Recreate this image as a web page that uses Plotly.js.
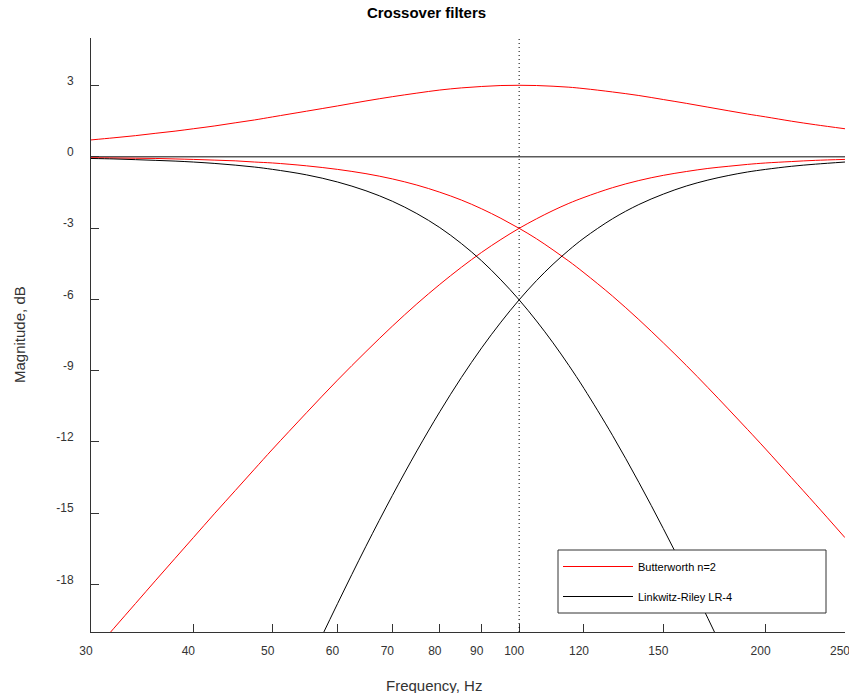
<!DOCTYPE html>
<html>
<head>
<meta charset="utf-8">
<script src="https://cdn.plot.ly/plotly-3.0.1.min.js"></script>
<style>html,body{margin:0;padding:0;background:#fff;}#chart{width:849px;height:693px;}</style>
</head>
<body>
<div id="chart"></div>
<script>
// Frequencies (Hz)
const freq = [30,32,34,36,38,40,42.5,45,47.5,50,55,60,65,70,75,80,85,90,95,100,105,110,115,120,130,140,150,160,170,180,190,200,215,230,250];
// Butterworth n=2 (dB)
const bwLow  = [-0.04,-0.05,-0.06,-0.07,-0.09,-0.11,-0.14,-0.17,-0.22,-0.26,-0.38,-0.53,-0.71,-0.93,-1.19,-1.49,-1.82,-2.19,-2.59,-3.01,-3.45,-3.92,-4.39,-4.88,-5.86,-6.85,-7.83,-8.78,-9.71,-10.61,-11.47,-12.30,-13.50,-14.62,-16.03];
const bwHigh = [-20.95,-19.84,-18.80,-17.82,-16.90,-16.03,-15.00,-14.05,-13.15,-12.30,-10.77,-9.40,-8.20,-7.13,-6.19,-5.37,-4.65,-4.02,-3.48,-3.01,-2.61,-2.26,-1.96,-1.71,-1.30,-1.00,-0.78,-0.62,-0.49,-0.40,-0.32,-0.26,-0.20,-0.15,-0.11];
const bwSum  = [0.71,0.80,0.89,0.99,1.08,1.18,1.30,1.43,1.55,1.68,1.92,2.14,2.35,2.53,2.68,2.81,2.90,2.96,3.00,3.01,3.00,2.97,2.93,2.87,2.73,2.58,2.41,2.25,2.09,1.94,1.80,1.68,1.50,1.35,1.18];
// Linkwitz-Riley LR-4 (dB)
const lrLow  = [-0.07,-0.09,-0.12,-0.15,-0.18,-0.22,-0.28,-0.35,-0.43,-0.53,-0.76,-1.06,-1.43,-1.87,-2.39,-2.98,-3.65,-4.38,-5.18,-6.02,-6.91,-7.83,-8.78,-9.75,-11.72,-13.70,-15.65,-17.56,-19.42,-21.21,-22.94,-24.61,-26.99,-29.24,-32.05];
const lrHigh = [-41.90,-39.68,-37.60,-35.64,-33.80,-32.05,-30.01,-28.09,-26.30,-24.61,-21.53,-18.81,-16.39,-14.26,-12.38,-10.73,-9.29,-8.04,-6.96,-6.02,-5.21,-4.52,-3.93,-3.42,-2.61,-2.01,-1.57,-1.23,-0.98,-0.79,-0.64,-0.53,-0.40,-0.31,-0.22];
const lrSum  = [0,0,0,0,0,0,0,0,0,0,0,0,0,0,0,0,0,0,0,0,0,0,0,0,0,0,0,0,0,0,0,0,0,0,0];
const xTicks = [30,40,50,60,70,80,90,100,120,150,200,250];
const yTicks = [-18,-15,-12,-9,-6,-3,0,3];
const crossover = 100;

const RED = '#ff0000', BLK = '#000000';
function tr(y, color, width, name, show, group){
  return {x: freq, y: y, type:'scatter', mode:'lines', line:{color:color, width:width, shape:'spline'},
          name:name, showlegend:show, legendgroup:group, hoverinfo:'skip'};
}
const data = [
  tr(lrSum, '#5a5a5a', 1.6, 'LR sum', false, 'lr'),
  tr(bwSum, RED, 1, 'Butterworth n=2', true, 'bw'),
  tr(bwLow, RED, 1, 'bw low', false, 'bw'),
  tr(bwHigh, RED, 1, 'bw high', false, 'bw'),
  tr(lrLow, BLK, 1, 'Linkwitz-Riley LR-4', true, 'lr'),
  tr(lrHigh, BLK, 1, 'lr high', false, 'lr')
];

const FONT = 'Liberation Sans, Arial, sans-serif';
const px2x = p => (p - 91) / 754;
const px2y = p => (632 - p) / 594;
const layout = {
  width: 849, height: 693,
  margin: {l: 91, r: 4, t: 38, b: 61},
  paper_bgcolor: '#fff', plot_bgcolor: '#fff',
  font: {family: FONT, size: 12, color: '#333'},
  title: {text: '<b>Crossover filters</b>', font: {family: FONT, size: 15, color: '#000'},
          x: 426.5/849, xref: 'container', xanchor: 'center', y: 1 - 12.5/693, yref: 'container', yanchor: 'middle'},
  xaxis: {type: 'log', range: [Math.log10(30) - 1e-5, Math.log10(250) + 1e-5], tickvals: xTicks, ticktext: xTicks.map(String),
          showgrid: false, zeroline: false, showline: true, linecolor: '#333', linewidth: 1,
          ticks: 'inside', ticklen: 8, tickcolor: '#333', ticklabelstandoff: 8, ticklabelshift: -5,
          ticklabeloverflow: 'allow',
          tickfont: {family: FONT, size: 12, color: '#333'}},
  yaxis: {range: [-20, 5], tickvals: yTicks, ticktext: yTicks.map(String),
          showgrid: false, zeroline: false, showline: true, linecolor: '#333', linewidth: 1,
          ticks: 'inside', ticklen: 8, tickcolor: '#333', ticklabelstandoff: 14, ticklabelshift: -5,
          tickfont: {family: FONT, size: 12, color: '#333'}},
  showlegend: true,
  legend: {x: px2x(558), xanchor: 'left', y: px2y(552), yanchor: 'top',
           bgcolor: 'rgba(0,0,0,0)', borderwidth: 0,
           font: {family: FONT, size: 11, color: '#000'}, itemwidth: 70,
           tracegroupgap: 11, traceorder: 'grouped'},
  shapes: [
    {type: 'line', xref: 'x', yref: 'paper', x0: crossover, x1: crossover, y0: 0, y1: 1,
     line: {color: '#000', width: 1, dash: '1px,3px'}},
    {type: 'rect', xref: 'paper', yref: 'paper', x0: px2x(558), x1: px2x(826), y0: px2y(613), y1: px2y(550),
     fillcolor: '#fff', line: {color: '#333', width: 1}, layer: 'above'}
  ],
  annotations: [
    {text: 'Frequency, Hz', xref: 'paper', yref: 'paper', x: px2x(434), y: -(685-632)/594,
     xanchor: 'center', yanchor: 'middle', showarrow: false, font: {family: FONT, size: 15, color: '#333'}},
    {text: 'Magnitude, dB', xref: 'paper', yref: 'paper', x: -(91-19)/754, y: 0.5, textangle: -90,
     xanchor: 'center', yanchor: 'middle', showarrow: false, font: {family: FONT, size: 15, color: '#333'}}
  ]
};
Plotly.newPlot('chart', data, layout, {staticPlot: true, displayModeBar: false});
</script>
</body>
</html>
